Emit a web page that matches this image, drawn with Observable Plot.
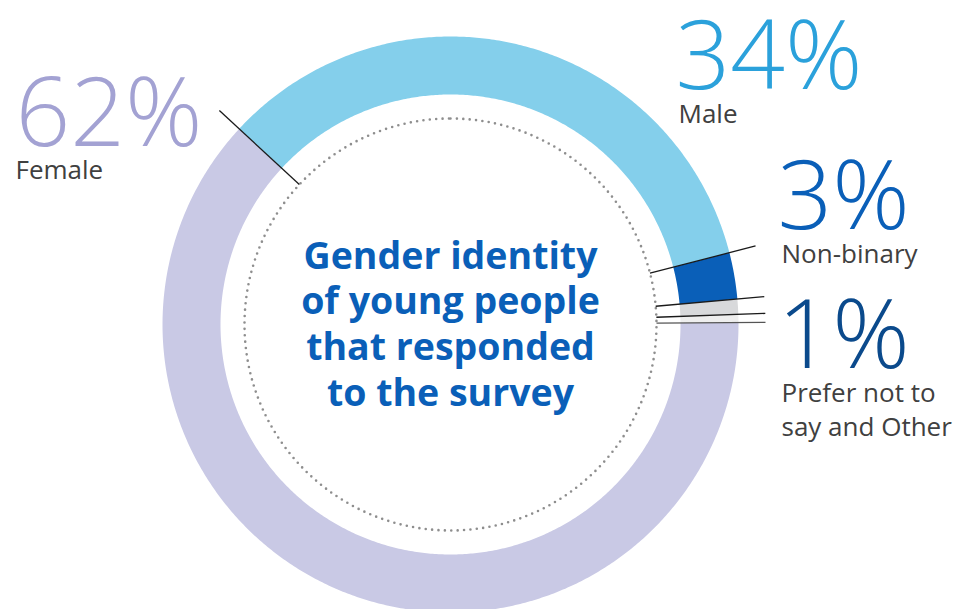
<!DOCTYPE html>
<html>
<head>
<meta charset="utf-8">
<script src="https://cdn.jsdelivr.net/npm/d3@7"></script>
<script src="https://cdn.jsdelivr.net/npm/@observablehq/plot@0.6"></script>
<style>
  html, body { margin: 0; padding: 0; background: #ffffff; }
  #chart svg { display: block; }
</style>
</head>
<body>
<div id="chart"></div>
<script>
// ---- data ----
const categories = ["Male", "Non-binary", "Prefer not to say", "Other", "Female"];
const shares = [34.1, 2.6, 0.85, 0.45, 62.0];
const percentLabels = ["62%", "34%", "3%", "1%"];
const nameLabels = ["Female", "Male", "Non-binary", "Prefer not to\nsay and Other"];
const title = "Gender identity\nof young people\nthat responded\nto the survey";

// ---- styles / layout ----
const sliceColors = ["#84cfeb", "#0a5fb8", "#d8d9db", "#eeeeee", "#c9c9e5"];
const W = 955, H = 609;
const CX = 450, CY = 324, R_OUT = 288, R_IN = 230, R_DOT = 206;
const LEAD_IN = 206, LEAD_OUT = 315;
const START = -47.2 * Math.PI / 180;

const polar = (r, a) => ({x: CX + r * Math.sin(a), y: CY - r * Math.cos(a)});

const arcs = d3.pie().sort(null).value(d => d)
  .startAngle(START).endAngle(START + 2 * Math.PI)(shares);

function slicePolygon(arc) {
  const n = Math.max(4, Math.ceil((arc.endAngle - arc.startAngle) / (Math.PI / 360)));
  const pts = [];
  for (let i = 0; i <= n; i++) pts.push(polar(R_OUT, arc.startAngle + (arc.endAngle - arc.startAngle) * i / n));
  for (let i = n; i >= 0; i--) pts.push(polar(R_IN, arc.startAngle + (arc.endAngle - arc.startAngle) * i / n));
  pts.push(pts[0]);
  return pts;
}

const circlePts = d3.range(0, 721).map(i => polar(R_DOT, i * Math.PI / 360));

const leaders = arcs.map(a => {
  const p1 = polar(LEAD_IN, a.startAngle), p2 = polar(LEAD_OUT, a.startAngle);
  return {x1: p1.x, y1: p1.y, x2: p2.x, y2: p2.y, cat: categories[a.index]};
});

const numFont = "'Open Sans', 'Noto Sans', sans-serif";
const pctStyle = [
  {x: 15, y: 145, fill: "#a3a2d3"},
  {x: 675, y: 88, fill: "#2ba1db"},
  {x: 777, y: 228, fill: "#0a5fb8"},
  {x: 777, y: 367, fill: "#0b4a8c"}
];
const nameStyle = [
  {x: 15, y: 178},
  {x: 678, y: 122},
  {x: 781, y: 262},
  {x: 781, y: 435}
];
const pctData = percentLabels.map((t, i) => ({t, ...pctStyle[i]}));
const nameData = nameLabels.map((t, i) => ({t, ...nameStyle[i]}));

const marks = [
  ...arcs.map(a => Plot.line(slicePolygon(a), {x: "x", y: "y", fill: sliceColors[a.index], stroke: "none", curve: "linear"})),
  Plot.line(circlePts, {x: "x", y: "y", stroke: "#8e8e8e", strokeWidth: 2.6, strokeDasharray: "0,6.4", strokeLinecap: "round"}),
  Plot.link(leaders, {x1: "x1", y1: "y1", x2: "x2", y2: "y2", stroke: (d, i) => i === 4 ? "#555" : "#1a1a1a", strokeWidth: 1.3}),
  Plot.text(pctData, {x: "x", y: "y", text: "t", fill: d => d.fill, textAnchor: "start", lineAnchor: "bottom",
    fontSize: 96, fontWeight: 300, fontFamily: numFont}),
  Plot.text(nameData, {x: "x", y: "y", text: "t", fill: "#404040", textAnchor: "start", lineAnchor: "bottom",
    fontSize: 26, lineHeight: 1.27, fontFamily: numFont}),
  Plot.text([title], {x: () => CX, y: () => 322, text: d => d, fill: "#0a5fb8", textAnchor: "middle", lineAnchor: "middle",
    fontSize: 37.5, lineHeight: 1.22, fontWeight: 700, fontFamily: numFont})
];

const chart = Plot.plot({
  width: W, height: H,
  margin: 0,
  x: {domain: [0, W], range: [0, W], axis: null},
  y: {domain: [0, H], range: [0, H], axis: null},
  color: {type: "identity"},
  style: {background: "white", overflow: "visible"},
  marks
});
document.getElementById("chart").appendChild(chart);
</script>
</body>
</html>
